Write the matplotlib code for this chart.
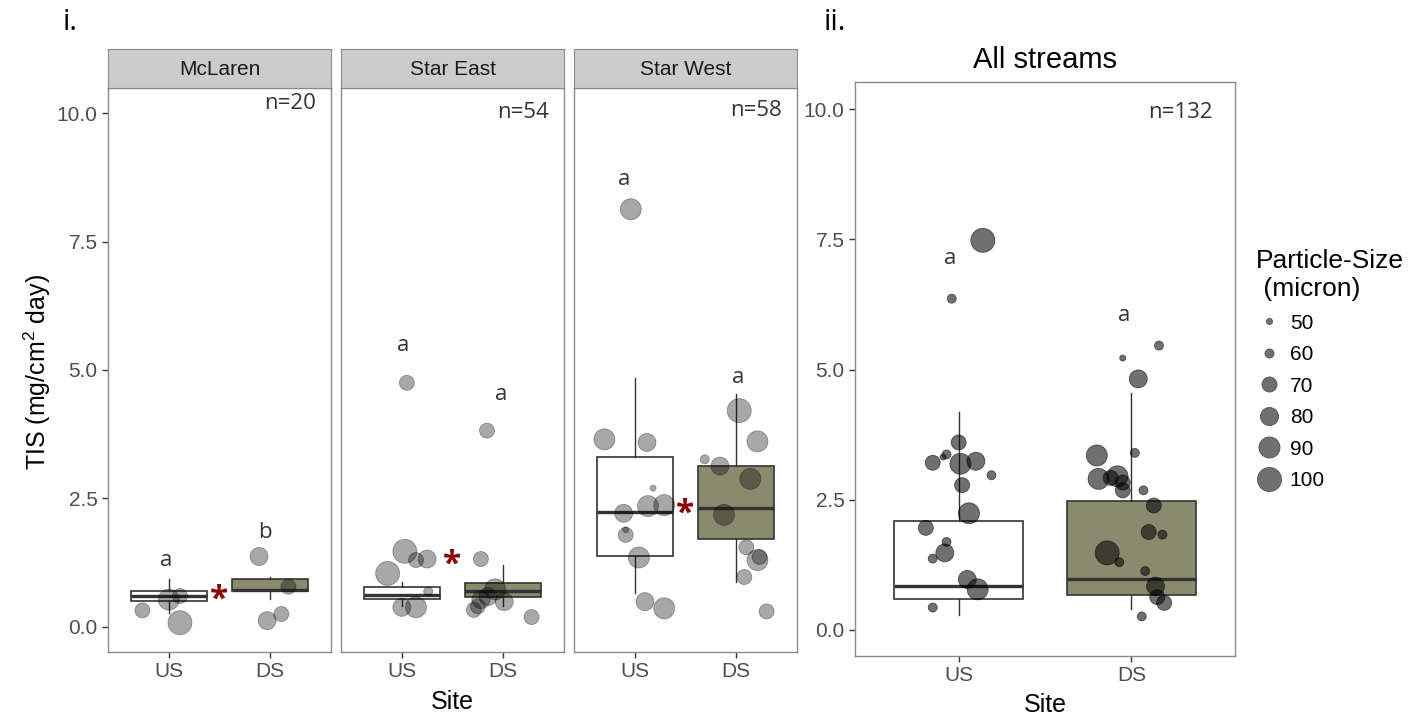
import numpy as np
import matplotlib
matplotlib.use('Agg')
import matplotlib.pyplot as plt
from matplotlib.lines import Line2D

plt.rcParams['font.family'] = ['Liberation Sans', 'DejaVu Sans']
plt.rcParams['mathtext.fontset'] = 'custom'
plt.rcParams['mathtext.rm'] = 'Liberation Sans'
plt.rcParams['mathtext.it'] = 'Liberation Sans:italic'

sites = ['US', 'DS']
streams = ['McLaren', 'Star East', 'Star West']
n_labels = ['n=20', 'n=54', 'n=58']
size_levels = [50, 60, 70, 80, 90, 100]

# points: jittered site position, TIS, particle size
mcl_x = [0.74, 1.00, 1.11, 1.11, 1.89, 2.18, 1.97, 2.11]
mcl_y = [0.32, 0.53, 0.60, 0.08, 1.37, 0.78, 0.12, 0.25]
mcl_size = [70, 90, 70, 100, 80, 70, 80, 70]

ste_x = [1.05, 1.03, 1.14, 1.25, 0.86, 1.26, 1.00, 1.14,
         1.84, 1.78, 1.92, 1.85, 1.78, 2.01, 1.71, 2.28, 1.75]
ste_y = [4.75, 1.47, 1.30, 1.32, 1.04, 0.69, 0.38, 0.38,
         3.82, 1.32, 0.73, 0.59, 0.53, 0.49, 0.33, 0.19, 0.40]
ste_size = [70, 100, 70, 80, 100, 60, 80, 90,
            70, 70, 90, 80, 80, 80, 70, 70, 70]

stw_x = [0.96, 0.70, 1.12, 1.18, 0.89, 1.13, 1.29, 0.91, 1.04, 1.10, 1.29, 0.91,
         2.03, 2.21, 1.69, 1.84, 2.14, 1.88, 2.10, 2.21, 2.23, 2.08, 2.30]
stw_y = [8.13, 3.65, 3.59, 2.70, 2.21, 2.35, 2.37, 1.79, 1.35, 0.49, 0.36, 1.89,
         4.21, 3.61, 3.26, 3.13, 2.88, 2.18, 1.55, 1.30, 1.36, 0.97, 0.30]
stw_size = [90, 90, 80, 50, 80, 90, 90, 70, 90, 80, 90, 50,
            100, 90, 60, 80, 90, 90, 70, 90, 70, 70, 70]

all_x = [1.14, 0.96, 1.00, 0.93, 0.91, 0.85, 1.01, 1.10, 1.19, 1.02, 1.06, 0.81,
         0.93, 0.92, 0.85, 1.05, 1.11, 0.85,
         1.95, 2.16, 2.04, 2.02, 1.80, 1.81, 1.88, 1.92, 1.95, 1.95, 2.07, 2.13,
         2.10, 2.18, 1.86, 1.93, 2.08, 2.14, 2.15, 2.19, 2.06]
all_y = [7.48, 6.36, 3.60, 3.37, 3.32, 3.21, 3.19, 3.24, 2.97, 2.78, 2.24, 1.96,
         1.69, 1.48, 1.37, 0.97, 0.78, 0.43,
         5.22, 5.46, 4.82, 3.40, 3.35, 2.90, 2.92, 2.95, 2.83, 2.68, 2.68, 2.39,
         1.88, 1.83, 1.48, 1.30, 1.13, 0.84, 0.63, 0.52, 0.26]
all_size = [100, 60, 70, 60, 50, 70, 90, 80, 60, 70, 90, 70, 60, 80, 60, 80, 90, 60,
            50, 60, 80, 60, 90, 90, 70, 90, 70, 70, 60, 70, 70, 60, 100, 60, 60,
            80, 70, 70, 60]

# box stats [US, DS] : q1, median, q3, lower whisker, upper whisker
mcl_box = [[0.51, 0.60, 0.69, 0.27, 0.93], [0.69, 0.72, 0.93, 0.54, 0.97]]
ste_box = [[0.55, 0.62, 0.77, 0.40, 0.88], [0.58, 0.69, 0.85, 0.41, 1.21]]
stw_box = [[1.37, 2.23, 3.31, 0.66, 4.84], [1.71, 2.31, 3.13, 0.88, 4.53]]
all_box = [[0.60, 0.85, 2.10, 0.28, 4.18], [0.68, 0.97, 2.47, 0.41, 4.54]]

# significance letters (x, y, letter) and asterisks
mcl_letters = [(0.97, 1.30, 'a'), (1.95, 1.83, 'b')]
ste_letters = [(1.01, 5.47, 'a'), (1.98, 4.53, 'a')]
stw_letters = [(0.90, 8.70, 'a'), (2.02, 4.86, 'a')]
all_letters = [(0.95, 7.14, 'a'), (1.96, 6.04, 'a')]
star_y = [0.52, 1.20, 2.20]

# diameter in px of the size legend keys
diam = {50: 6, 60: 9, 70: 15, 80: 18, 90: 21, 100: 24}
box_fill = ['white', '#8a8a6f']
W, H = 1416, 718


def size_pts(vals):
    return [(diam[v] * 0.72) ** 2 for v in vals]


def draw_boxes(ax, stats):
    bx = []
    for s in stats:
        bx.append(dict(q1=s[0], med=s[1], q3=s[2], whislo=s[3], whishi=s[4], fliers=[]))
    b = ax.bxp(bx, positions=[1, 2], widths=0.75, patch_artist=True, showcaps=False,
               showfliers=False, manage_ticks=False,
               boxprops=dict(edgecolor='#333333', linewidth=1.2),
               whiskerprops=dict(color='#333333', linewidth=1.0),
               medianprops=dict(color='#333333', linewidth=2.4))
    for patch, c in zip(b['boxes'], box_fill):
        patch.set_facecolor(c)


def style_ax(ax):
    ax.set_xlim(0.4, 2.6)
    ax.set_xticks([1, 2])
    ax.set_xticklabels(sites)
    ax.set_yticks([0, 2.5, 5, 7.5, 10])
    ax.tick_params(length=4, width=1, color='#333333', labelcolor='#4d4d4d', labelsize=15)
    for sp in ax.spines.values():
        sp.set_color('#8a8a8a')
        sp.set_linewidth(1.0)


fig = plt.figure(figsize=(W / 100, H / 100), dpi=100)

lefts = [108, 341, 574]
panels = [(mcl_x, mcl_y, mcl_size, mcl_box, mcl_letters),
          (ste_x, ste_y, ste_size, ste_box, ste_letters),
          (stw_x, stw_y, stw_size, stw_box, stw_letters)]
n_y = [10.19, 10.02, 10.06]

for i, (px, py, ps, pb, pl) in enumerate(panels):
    ax = fig.add_axes([lefts[i] / W, 1 - 652 / H, 223 / W, 564 / H])
    draw_boxes(ax, pb)
    ax.scatter(px, py, s=size_pts(ps), color='black', alpha=0.34,
               edgecolor='black', linewidth=0.6, zorder=3)
    style_ax(ax)
    ax.set_ylim(-0.49, 10.49)
    if i == 0:
        ax.set_yticklabels(['0.0', '2.5', '5.0', '7.5', '10.0'])
    else:
        ax.tick_params(axis='y', left=False, labelleft=False)
    for lx, ly, lt in pl:
        ax.text(lx, ly, lt, ha='center', va='center', fontsize=16,
                family='Open Sans', color='#333333')
    ax.text(1.5, star_y[i], '*', ha='center', va='center', fontsize=24,
            fontweight='bold', color='#8b0000', family='Open Sans')
    ax.text(2.45, n_y[i], n_labels[i], ha='right', va='center', fontsize=16,
            family='Open Sans', color='#333333')
    # facet strip
    sax = fig.add_axes([lefts[i] / W, 1 - 88 / H, 223 / W, 39 / H])
    sax.set_facecolor('#cccccc')
    sax.set_xticks([])
    sax.set_yticks([])
    for sp in sax.spines.values():
        sp.set_color('#8a8a8a')
    sax.text(0.5, 0.48, streams[i], ha='center', va='center', fontsize=15,
             color='#1a1a1a', transform=sax.transAxes)

# all streams panel
ax2 = fig.add_axes([855 / W, 1 - 656 / H, 380 / W, 574 / H])
draw_boxes(ax2, all_box)
ax2.scatter(all_x, all_y, s=size_pts(all_size), color='black', alpha=0.56,
            edgecolor='black', linewidth=0.6, zorder=3)
style_ax(ax2)
ax2.set_ylim(-0.5, 10.52)
ax2.set_yticklabels(['0.0', '2.5', '5.0', '7.5', '10.0'])
for lx, ly, lt in all_letters:
    ax2.text(lx, ly, lt, ha='center', va='center', fontsize=16,
             family='Open Sans', color='#333333')
ax2.text(2.47, 9.93, 'n=132', ha='right', va='center', fontsize=16,
         family='Open Sans', color='#333333')
ax2.set_title('All streams', fontsize=21, pad=10)

# axis titles and panel tags
fig.text(452 / W, 1 - 702 / H, 'Site', ha='center', va='center', fontsize=18)
fig.text(1045 / W, 1 - 705 / H, 'Site', ha='center', va='center', fontsize=18)
fig.text(37 / W, 1 - 372 / H, 'TIS (mg/cm$^2$ day)', rotation=90, ha='center',
         va='center', fontsize=18)
fig.text(70 / W, 1 - 22 / H, 'i.', ha='center', va='center', fontsize=21, family='Open Sans')
fig.text(835 / W, 1 - 22 / H, 'ii.', ha='center', va='center', fontsize=21, family='Open Sans')

# size legend
handles = [Line2D([], [], ls='', marker='o', markersize=diam[v] * 0.72,
                  markerfacecolor='#707070', markeredgecolor='#505050', markeredgewidth=0.6)
           for v in size_levels]
leg = fig.legend(handles, [str(v) for v in size_levels], title='Particle-Size\n (micron)',
                 loc='upper left', bbox_to_anchor=(1248 / W, 1 - 241 / H), frameon=False,
                 fontsize=15, title_fontsize=19, labelspacing=0.6, handletextpad=0.4,
                 handlelength=1.2, alignment='left', borderaxespad=0)

fig.savefig('out.png', dpi=100)
